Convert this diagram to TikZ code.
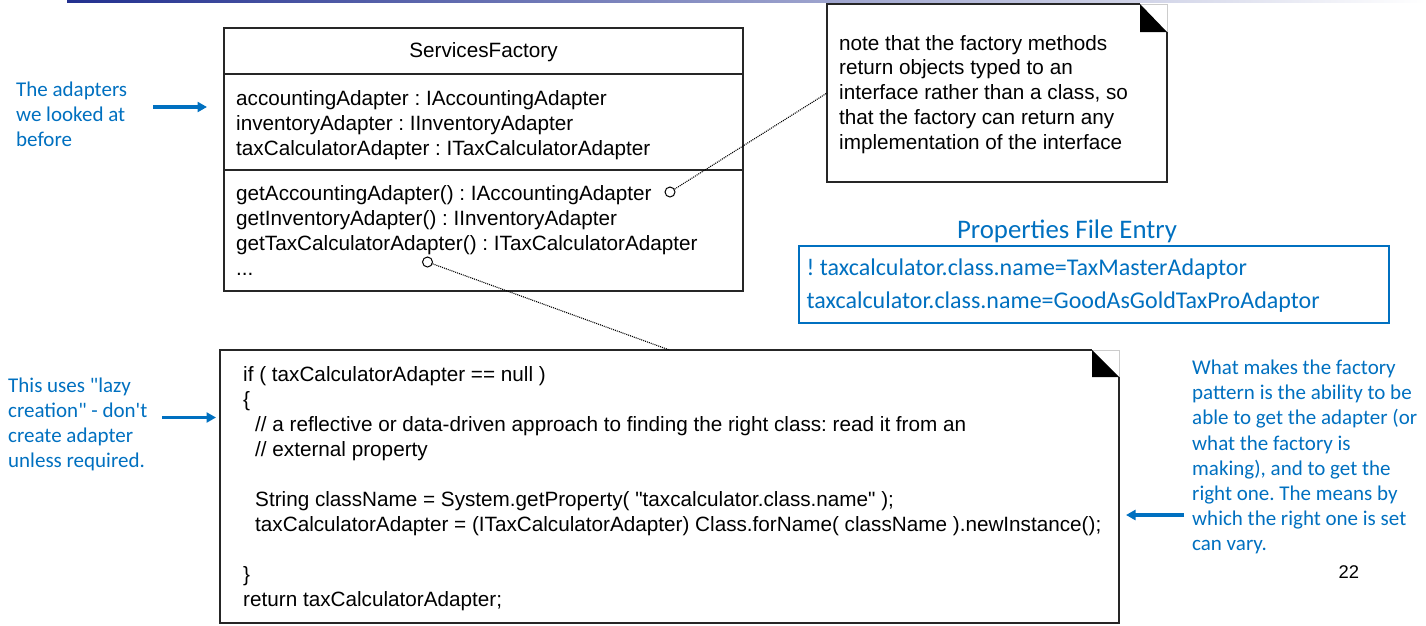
\documentclass[tikz,border=0pt]{standalone}
\usepackage{fontspec}
\newfontfamily\arialf{Liberation Sans}
\newfontfamily\calf{Carlito}
\usetikzlibrary{arrows.meta}
\definecolor{ublue}{HTML}{0070C0}
\definecolor{topblue}{HTML}{22308F}
\frenchspacing
\begin{document}
\frenchspacing
\begin{tikzpicture}[x=1pt,y=-1pt,
 atext/.style={font=\arialf\fontsize{20.7}{25}\selectfont\frenchspacing, inner sep=0pt, anchor=base west},
 btext/.style={font=\calf\fontsize{21}{25}\selectfont\frenchspacing, text=ublue, inner sep=0pt, anchor=base west},
 ptext/.style={font=\calf\fontsize{24}{30}\selectfont\frenchspacing, text=ublue, inner sep=0pt, anchor=base west},
 barrow/.style={draw=ublue, line width=3.2pt, -{Triangle[length=9.5pt,width=10pt]}},
 dotline/.style={draw=black, line width=1.1pt, dash pattern=on 1pt off 1pt},
 boxline/.style={draw=black!85, line width=1.3pt},
 blank/.style={inner sep=0pt, outer sep=0pt, anchor=north west},
 port/.style={circle, draw=black, line width=1pt, fill=white, minimum size=10pt, inner sep=0pt}
]
\useasboundingbox (0,0) rectangle (1426,625);
% top rule
\shade[left color=topblue, right color=white] (67,0) rectangle (1426,2.5);

% ServicesFactory class box
\node[blank, boxline, minimum width=519pt, minimum height=263pt] (sf) at (224,28) {};
\draw[boxline] (sf.west |- 0,74) -- (sf.east |- 0,74);
\draw[boxline] (sf.west |- 0,170) -- (sf.east |- 0,170);
\node[atext, anchor=base] (sftitle) at (483.5,57) {ServicesFactory};
\node[atext] (sfa1) at (236,105) {accountingAdapter : IAccountingAdapter};
\node[atext] (sfa2) at (236,130) {inventoryAdapter : IInventoryAdapter};
\node[atext] (sfa3) at (236,155) {taxCalculatorAdapter : ITaxCalculatorAdapter};
\node[atext] (sfm1) at (236,200) {getAccountingAdapter() : IAccountingAdapter};
\node[atext] (sfm2) at (236,225) {getInventoryAdapter() : IInventoryAdapter};
\node[atext] (sfm3) at (236,250) {getTaxCalculatorAdapter() : ITaxCalculatorAdapter};
\node[atext] (sfm4) at (236,275) {...};

% note box
\node[blank, minimum width=340pt, minimum height=178pt] (note) at (827,4) {};
\draw[gray!40, line width=0.8pt] ([xshift=-27pt]note.north east) -- (note.north east) -- ([yshift=-28pt]note.north east);
\draw[boxline] ([xshift=-27pt]note.north east) -- (note.north west) -- (note.south west) -- (note.south east) -- ([yshift=-28pt]note.north east);
\fill[black] ([xshift=-27pt]note.north east) -- ([xshift=-27pt,yshift=-28pt]note.north east) -- ([yshift=-28pt]note.north east) -- cycle;
\node[atext] (n1) at (839,50) {note that the factory methods};
\node[atext] (n2) at (839,74.8) {return objects typed to an};
\node[atext] (n3) at (839,99.6) {interface rather than a class, so};
\node[atext] (n4) at (839,124.4) {that the factory can return any};
\node[atext] (n5) at (839,149.2) {implementation of the interface};

% code box
\node[blank, minimum width=899pt, minimum height=273pt] (code) at (220,350) {};
\draw[gray!40, line width=0.8pt] ([xshift=-27pt]code.north east) -- (code.north east) -- ([yshift=-27pt]code.north east);
\draw[boxline] ([xshift=-27pt]code.north east) -- (code.north west) -- (code.south west) -- (code.south east) -- ([yshift=-27pt]code.north east);
\fill[black] ([xshift=-27pt]code.north east) -- ([xshift=-27pt,yshift=-27pt]code.north east) -- ([yshift=-27pt]code.north east) -- cycle;
\node[atext] (k1) at (243,381) {if ( taxCalculatorAdapter == null )};
\node[atext] (k2) at (243,406) {\{};
\node[atext] (k3) at (255,431) {// a reflective or data-driven approach to finding the right class: read it from an};
\node[atext] (k4) at (255,456) {// external property};
\node[atext] (k5) at (255,506) {String className = System.getProperty( "taxcalculator.class.name" );};
\node[atext] (k6) at (255,531) {taxCalculatorAdapter = (ITaxCalculatorAdapter) Class.forName( className ).newInstance();};
\node[atext] (k7) at (243,581) {\}};
\node[atext] (k8) at (243,606) {return taxCalculatorAdapter;};

% dotted connectors
\node[port] (p1) at (670,192) {};
\node[port] (p2) at (427.5,262) {};
\draw[dotline] (p1) -- (note.west);
\draw[dotline] (p2) -- (code.north);

% properties file entry
\node[font=\calf\fontsize{26.8}{30}\selectfont, text=ublue, inner sep=0pt, anchor=base] (ptitle) at (1067,238) {Properties File Entry};
\node[blank, draw=ublue, line width=1.5pt, minimum width=590pt, minimum height=77pt] (prop) at (799,246) {};
\node[ptext] (pl1) at (806.5,275) {! taxcalculator.class.name=TaxMasterAdaptor};
\node[ptext] (pl2) at (806.5,308) {taxcalculator.class.name=GoodAsGoldTaxProAdaptor};

% annotation: adapters
\node[btext] (t1) at (16,96) {The adapters};
\node[btext] (t2) at (16,121) {we looked at};
\node[btext] (t3) at (16,146) {before};
\coordinate (a1s) at (153,107);
\coordinate (a1e) at (207,107);
\draw[barrow] (a1s) -- (a1e);

% annotation: lazy creation
\node[btext] (u1) at (8,392) {This uses "lazy};
\node[btext] (u2) at (8,417) {creation" - don't};
\node[btext] (u3) at (8,442) {create adapter};
\node[btext] (u4) at (8,467) {unless required.};
\coordinate (a2s) at (162,417.5);
\coordinate (a2e) at (216,417.5);
\draw[barrow] (a2s) -- (a2e);

% annotation: right
\node[btext] (r1) at (1192,374.5) {What makes the factory};
\node[btext] (r2) at (1192,399.7) {pattern is the ability to be};
\node[btext] (r3) at (1192,424.9) {able to get the adapter (or};
\node[btext] (r4) at (1192,450.1) {what the factory is};
\node[btext] (r5) at (1192,475.3) {making), and to get the};
\node[btext] (r6) at (1192,500.5) {right one. The means by};
\node[btext] (r7) at (1192,525.7) {which the right one is set};
\node[btext] (r8) at (1192,550.9) {can vary.};
\coordinate (a3s) at (1184,515);
\coordinate (a3e) at (1126,515);
\draw[barrow] (a3s) -- (a3e);

% page number
\node[font=\arialf\fontsize{18.4}{22}\selectfont, inner sep=0pt, anchor=base west] (pg) at (1338.5,578) {22};
\end{tikzpicture}
\end{document}
